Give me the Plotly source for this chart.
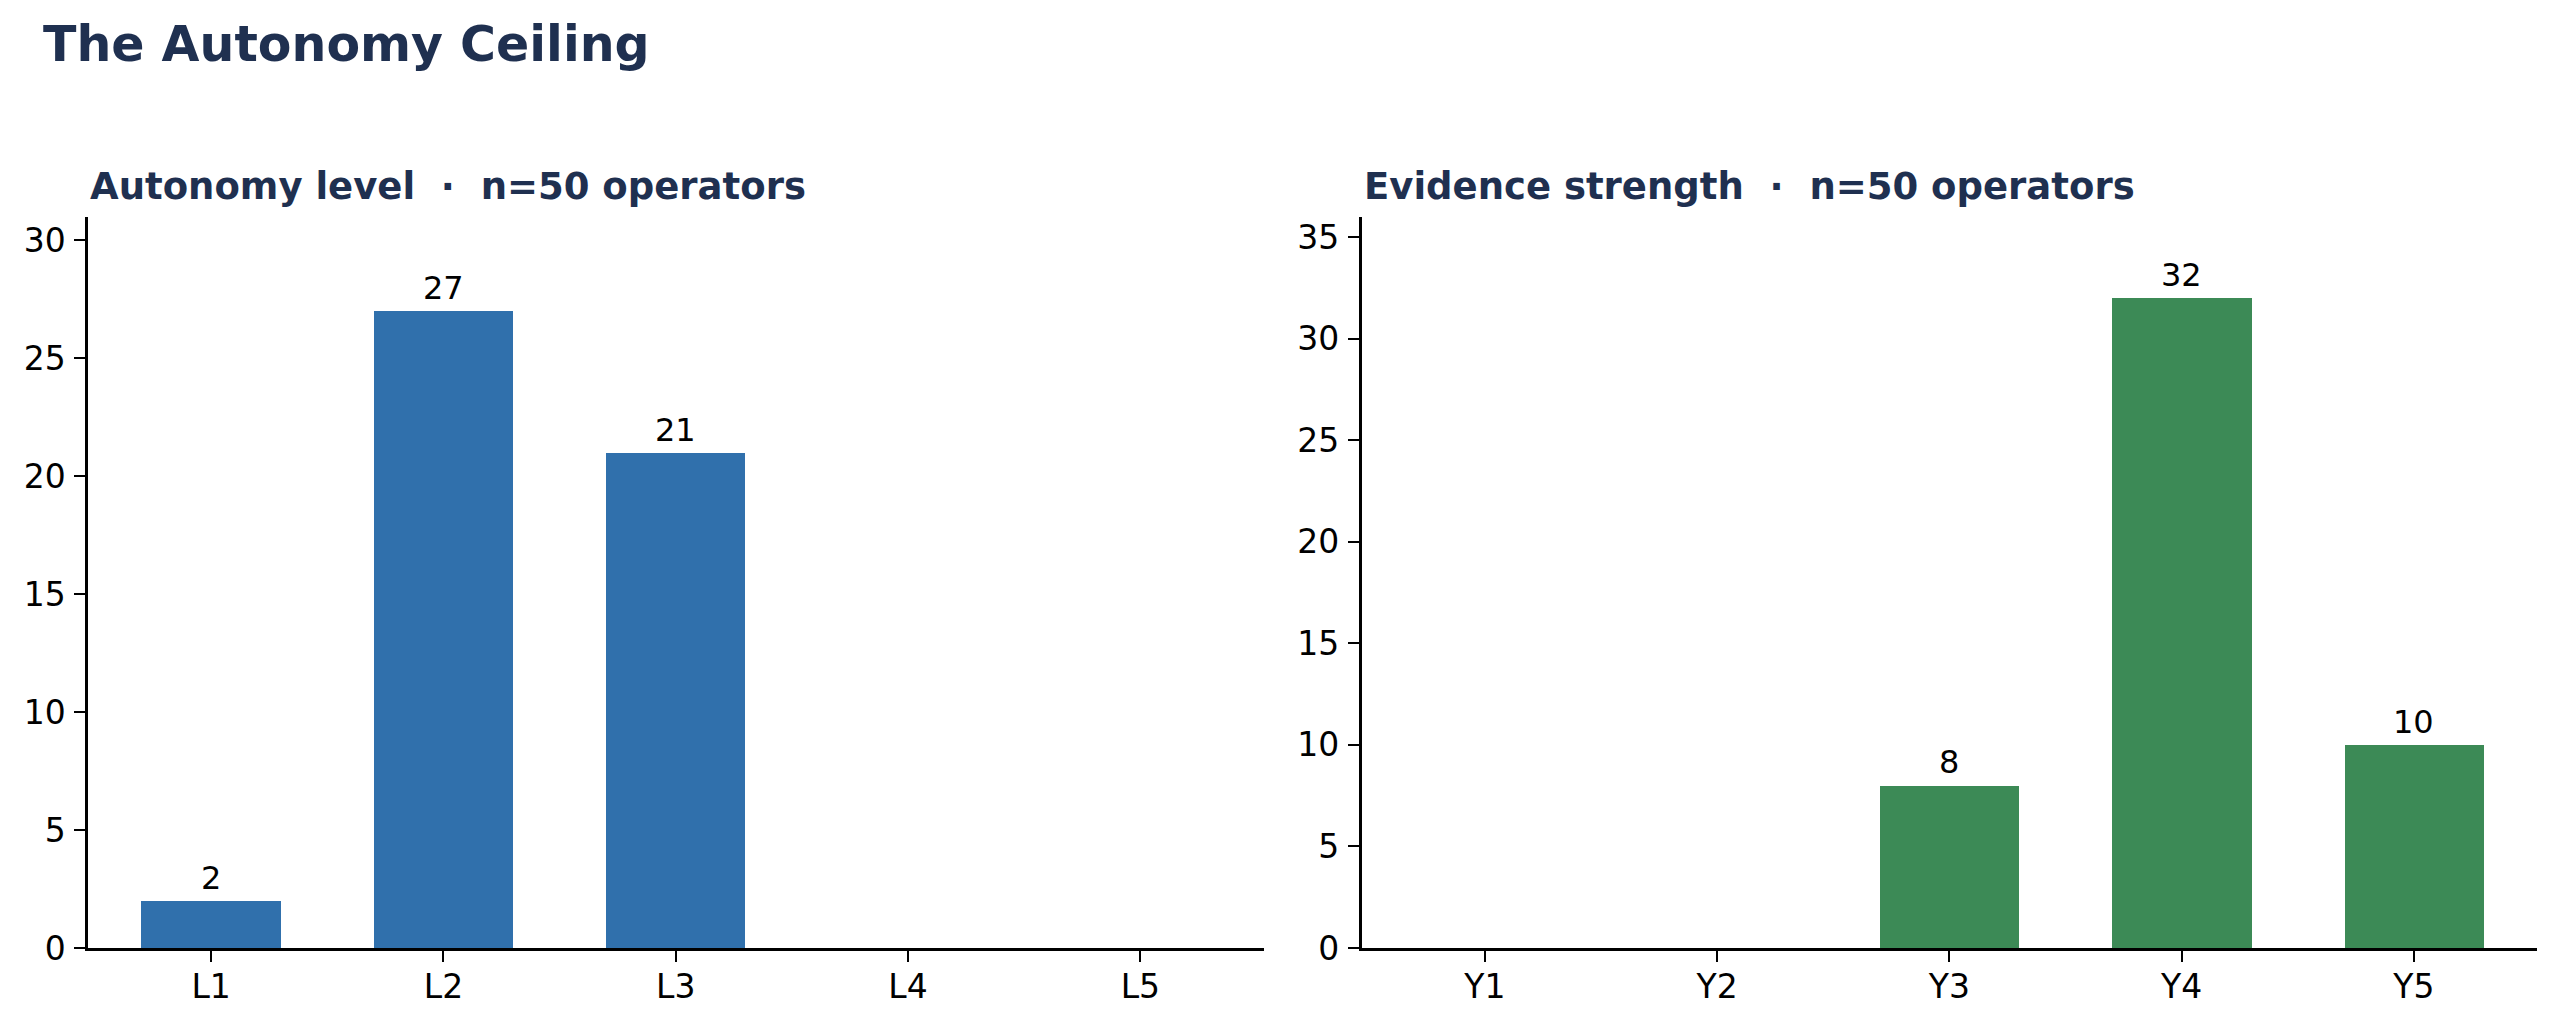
import plotly.graph_objects as go

# ---- data ----
autonomy_levels = ["L1", "L2", "L3", "L4", "L5"]
autonomy_counts = [2, 27, 21, 0, 0]
evidence_levels = ["Y1", "Y2", "Y3", "Y4", "Y5"]
evidence_counts = [0, 0, 8, 32, 10]

main_title = "The Autonomy Ceiling"
left_title = "Autonomy level  ·  n=50 operators"
right_title = "Evidence strength  ·  n=50 operators"

BLUE = "#3070AC"
GREEN = "#3C8A56"
NAVY = "#1F3050"
FONT = "DejaVu Sans"

W, H = 2560, 1027

fig = go.Figure()
fig.add_trace(go.Bar(x=autonomy_levels, y=autonomy_counts, width=0.6,
                     marker=dict(color=BLUE, line=dict(width=0)),
                     xaxis="x", yaxis="y", showlegend=False, hoverinfo="x+y"))
fig.add_trace(go.Bar(x=evidence_levels, y=evidence_counts, width=0.6,
                     marker=dict(color=GREEN, line=dict(width=0)),
                     xaxis="x2", yaxis="y2", showlegend=False, hoverinfo="x+y"))

ytop = 1 - 216.7 / H
ybot = 1 - 948 / H

axis_common = dict(showline=True, linecolor="black", linewidth=2.5,
                   ticks="outside", ticklen=11, tickwidth=2, tickcolor="black",
                   showgrid=False, zeroline=False, automargin=False,
                   tickfont=dict(family=FONT, size=33, color="black"))

fig.update_layout(
    width=W, height=H,
    margin=dict(l=0, r=0, t=0, b=0, autoexpand=False),
    paper_bgcolor="white", plot_bgcolor="white",
    font=dict(family=FONT, color="black"),
    bargap=0,
    xaxis=dict(domain=[88 / W, 1263.5 / W], anchor="y", type="category",
               range=[-0.53, 4.53], ticklabelstandoff=-3, **axis_common),
    yaxis=dict(domain=[ybot, ytop], anchor="x", range=[0, 31], dtick=5,
               ticklabelstandoff=2, **axis_common),
    xaxis2=dict(domain=[1361.7 / W, 2537 / W], anchor="y2", type="category",
                range=[-0.53, 4.53], ticklabelstandoff=-3, **axis_common),
    yaxis2=dict(domain=[ybot, ytop], anchor="x2", range=[0, 36], dtick=5,
                ticklabelstandoff=2, **axis_common),
)

annotations = []
annotations.append(dict(text="<b>" + main_title + "</b>", xref="paper", yref="paper",
                        x=41 / W, y=1 - 44 / H, xanchor="left", yanchor="middle",
                        showarrow=False, font=dict(family=FONT, size=49, color=NAVY)))
annotations.append(dict(text="<b>" + left_title + "</b>", xref="x domain", yref="paper",
                        x=0, y=1 - 186 / H, xanchor="left", yanchor="middle",
                        showarrow=False, font=dict(family=FONT, size=37, color=NAVY)))
annotations.append(dict(text="<b>" + right_title + "</b>", xref="x2 domain", yref="paper",
                        x=0, y=1 - 186 / H, xanchor="left", yanchor="middle",
                        showarrow=False, font=dict(family=FONT, size=37, color=NAVY)))

for cats, vals, xr, yr in [(autonomy_levels, autonomy_counts, "x", "y"),
                           (evidence_levels, evidence_counts, "x2", "y2")]:
    for c, v in zip(cats, vals):
        if v > 0:
            annotations.append(dict(text=str(v), x=c, y=v, xref=xr, yref=yr,
                                    xanchor="center", yanchor="bottom", yshift=2,
                                    showarrow=False,
                                    font=dict(family=FONT, size=32, color="black")))

fig.update_layout(annotations=annotations)
fig.write_html("out.html")
